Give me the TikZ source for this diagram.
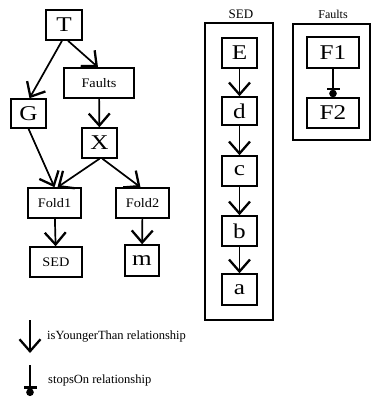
\documentclass[tikz,border=0pt]{standalone}
\usepackage{fontspec}
\setmainfont{Liberation Serif}
\newfontfamily\bigfam[FakeStretch=1.2]{Liberation Serif}
\newfontfamily\smallfam[FakeStretch=1.1]{Liberation Serif}
\usetikzlibrary{arrows.meta}
\begin{document}
\begin{tikzpicture}[x=1pt,y=-1pt,
  box/.style={draw,line width=1.5pt,inner sep=0pt,minimum height=30pt},
  bigbox/.style={box,font=\bigfam\fontsize{21}{21}\selectfont,minimum width=35pt},
  smallbox/.style={box,font=\smallfam\fontsize{13}{13}\selectfont,minimum width=53pt},
  container/.style={draw,line width=1.5pt},
  clabel/.style={font=\fontsize{13}{13}\selectfont},
  younger/.style={line width=1.7pt,-{Straight Barb[length=12pt,width=21pt,line width=2.3pt]}},
  stops/.style={line width=1.7pt,-{Bar[width=13pt,line width=2.2pt]Circle[length=7.5pt]}},
  legtext/.style={anchor=west,inner sep=0pt,font=\fontsize{12.5}{12.5}\selectfont}
]
\useasboundingbox (0,0) rectangle (373,397);
% left graph
\node[bigbox,minimum width=36pt] (T) at (64,25) {T};
\node[smallbox,minimum width=70pt] (Faults) at (99,83) {Faults};
\node[bigbox,minimum height=29pt] (G) at (28.5,113.5) {G};
\node[bigbox] (X) at (99.5,143) {X};
\node[smallbox] (Fold1) at (54.5,203) {Fold1};
\node[smallbox] (Fold2) at (142.5,203) {Fold2};
\node[smallbox,minimum width=52pt] (SEDn) at (56,262) {SED};
\node[bigbox,minimum width=34pt,minimum height=31pt] (m) at (142,260.5) {m};
\draw[younger] ([xshift=-2pt]T.south) -- ([xshift=1pt]G.north);
\draw[younger] ([xshift=4pt]T.south) -- ([xshift=-1pt]Faults.north);
\draw[younger] (Faults) -- (X);
\draw[younger] (G.south) -- (Fold1.north);
\draw[younger] (X.south) -- ([xshift=3pt]Fold1.north);
\draw[younger] ([xshift=3pt]X.south) -- ([xshift=-2pt]Fold2.north);
\draw[younger] (Fold1) -- (SEDn);
\draw[younger] (Fold2) -- (m);
% SED container
\node[clabel] (sedlab) at (241,14) {SED};
\draw[container] (205,23) rectangle (273,320);
\node[bigbox] (E) at (239.5,53) {E};
\node[bigbox,minimum height=28pt] (d) at (239.5,111) {d};
\node[bigbox] (c) at (239.5,171) {c};
\node[bigbox] (b) at (239.5,231) {b};
\node[bigbox,minimum height=31pt] (a) at (239.5,289.5) {a};
\draw[younger] (E) -- (d);
\draw[younger] (d) -- (c);
\draw[younger] (c) -- (b);
\draw[younger] (b) -- (a);
% Faults container
\node[clabel,font=\fontsize{12}{12}\selectfont] (flab) at (333,14) {Faults};
\draw[container] (293,24) rectangle (370,140);
\node[bigbox,minimum width=52pt,minimum height=31pt] (F1) at (333,52.5) {F1};
\node[bigbox,minimum width=52pt] (F2) at (333,113) {F2};
\draw[stops] (F1) -- (F2);
% legend
\coordinate (l1s) at (30,320);
\coordinate (l1e) at (30,353);
\draw[younger] (l1s) -- (l1e);
\node[legtext] (l1t) at (47,337) {isYoungerThan relationship};
\coordinate (l2s) at (30,365);
\coordinate (l2e) at (30,396);
\draw[stops] (l2s) -- (l2e);
\node[legtext] (l2t) at (48,380) {stopsOn relationship};
\end{tikzpicture}
\end{document}
